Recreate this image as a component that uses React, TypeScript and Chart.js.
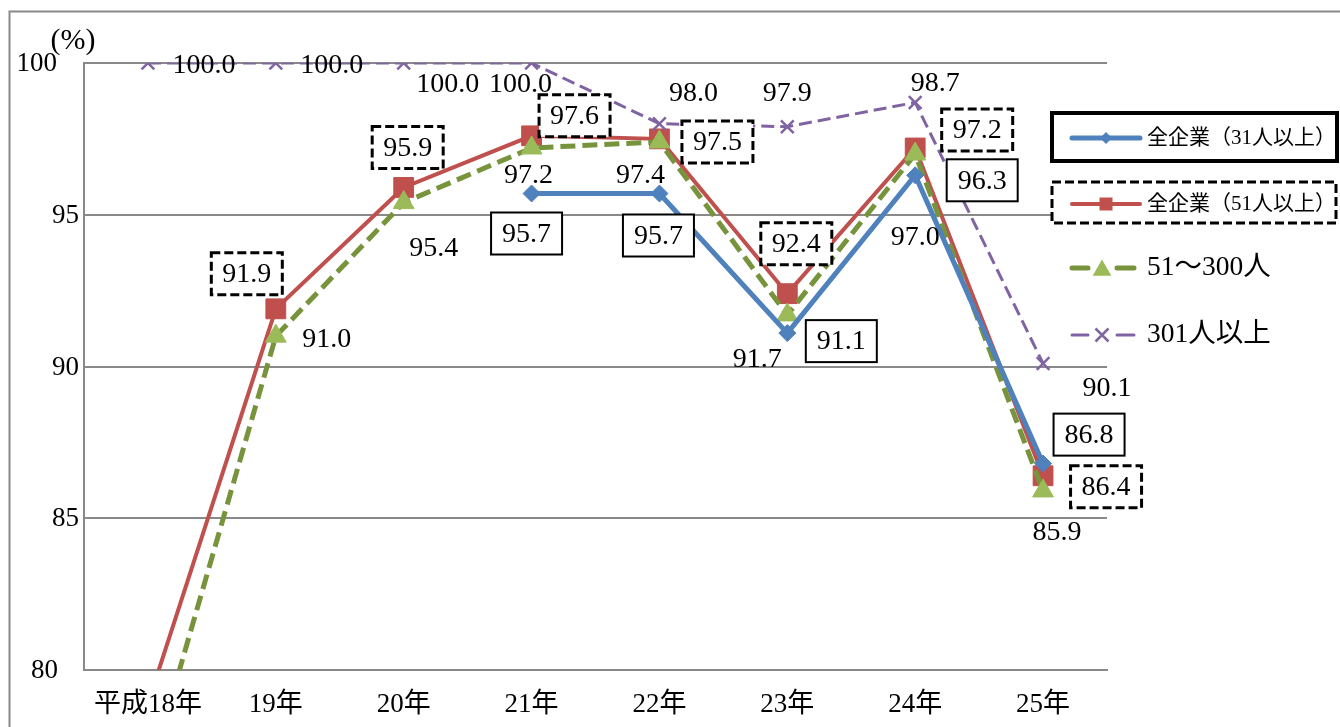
import React, { useEffect, useRef } from 'react';
import { Chart, registerables } from 'chart.js';

Chart.register(...registerables);

// ---------- data ----------
const categories = ['平成18年', '19年', '20年', '21年', '22年', '23年', '24年', '25年'];
const seriesNames = ['全企業（31人以上）', '全企業（51人以上）', '51～300人', '301人以上'];
const all31 = [null, null, null, 95.7, 95.7, 91.1, 96.3, 86.8];
const all51 = [78.9, 91.9, 95.9, 97.6, 97.5, 92.4, 97.2, 86.4];
const mid51to300 = [76.4, 91.0, 95.4, 97.2, 97.4, 91.7, 97.0, 85.9];
const over301 = [100.0, 100.0, 100.0, 100.0, 98.0, 97.9, 98.7, 90.1];
const yTicks = [80, 85, 90, 95, 100];
const yUnit = '(%)';

// ---------- styles / label placement ----------
const FONT = '"Liberation Serif", "Noto Sans CJK JP", serif';
const GRID = '#898989';

const styles = [
  { line: '#4F81BD', fill: '#4F81BD', width: 5, dash: [] as number[], point: 'rectRot', radius: 8.5, order: 1 },
  { line: '#C0504D', fill: '#C0504D', width: 4, dash: [] as number[], point: 'rect', radius: 14, order: 3 },
  { line: '#77933C', fill: '#9BBB59', width: 5, dash: [15, 7], point: 'triangle', radius: 12, order: 2 },
  { line: '#8064A2', fill: '#8064A2', width: 3, dash: [13, 6], point: 'crossRot', radius: 9, order: 0 },
];

const labelOffsets: (number[] | null)[][] = [
  [null, null, null, [-5, 40], [-1, 42], [54, 8], [67, 5], [46, -29]],
  [null, [-29, -35], [4, -40], [43, -20], [58, 3], [9, -50], [62, -18], [63, 11]],
  [null, [51, 2], [30, 45], [-3, 27], [-19, 33], [-30, 44], [0, 83], [14, 41]],
  [[56, 2], [56, 2], [44, 21], [-11, 21], [34, -31], [0, -34], [20, -20], [64, 24]],
];
const labelBoxes = ['solid', 'dashed', 'none', 'none'];
const yLabelRight: Record<number, number> = { 100: 57, 95: 79, 90: 79, 85: 79, 80: 58 };

const legendItems = [
  { y: 138, box: 'solid', rect: [1052, 113, 285, 48], font: 21 },
  { y: 204, box: 'dashed', rect: [1052, 182, 284, 41], font: 21 },
  { y: 268, box: 'none', rect: null, font: 27.5 },
  { y: 335, box: 'none', rect: null, font: 27.5 },
];

function drawMarker(ctx: CanvasRenderingContext2D, style: string, x: number, y: number, r: number, color: string) {
  ctx.save();
  ctx.fillStyle = color;
  ctx.strokeStyle = color;
  ctx.beginPath();
  if (style === 'rectRot') {
    ctx.moveTo(x - r, y);
    ctx.lineTo(x, y - r);
    ctx.lineTo(x + r, y);
    ctx.lineTo(x, y + r);
    ctx.closePath();
    ctx.fill();
  } else if (style === 'rect') {
    ctx.rect(x - r, y - r, 2 * r, 2 * r);
    ctx.fill();
  } else if (style === 'triangle') {
    ctx.moveTo(x, y - r);
    ctx.lineTo(x + r * 1.1, y + r * 0.9);
    ctx.lineTo(x - r * 1.1, y + r * 0.9);
    ctx.closePath();
    ctx.fill();
  } else {
    ctx.lineWidth = 2.5;
    ctx.moveTo(x - r, y - r);
    ctx.lineTo(x + r, y + r);
    ctx.moveTo(x + r, y - r);
    ctx.lineTo(x - r, y + r);
    ctx.stroke();
  }
  ctx.restore();
}

const framePlugin = {
  id: 'frame',
  beforeDraw(chart: any) {
    const ctx = chart.ctx as CanvasRenderingContext2D;
    ctx.save();
    ctx.fillStyle = '#ffffff';
    ctx.fillRect(0, 0, chart.width, chart.height);
    ctx.strokeStyle = GRID;
    ctx.lineWidth = 2;
    ctx.beginPath();
    ctx.moveTo(9.5, chart.height + 5);
    ctx.lineTo(9.5, 11.5);
    ctx.lineTo(chart.width + 5, 11.5);
    ctx.stroke();
    ctx.restore();
  },
  afterDraw(chart: any) {
    const ctx = chart.ctx as CanvasRenderingContext2D;
    const yScale = chart.scales.y;
    ctx.save();
    ctx.fillStyle = '#000';
    ctx.font = `27px ${FONT}`;
    ctx.textBaseline = 'middle';
    ctx.textAlign = 'right';
    yTicks.forEach((v) => {
      ctx.fillText(String(v), yLabelRight[v], yScale.getPixelForValue(v) + 1);
    });
    ctx.textAlign = 'center';
    ctx.font = `30px ${FONT}`;
    ctx.fillText(yUnit, 73, 41);
    ctx.restore();
  },
};

const labelPlugin = {
  id: 'valueLabels',
  afterDatasetsDraw(chart: any) {
    const ctx = chart.ctx as CanvasRenderingContext2D;
    ctx.save();
    ctx.font = `28px ${FONT}`;
    ctx.textAlign = 'center';
    ctx.textBaseline = 'middle';
    chart.data.datasets.forEach((ds: any, i: number) => {
      const meta = chart.getDatasetMeta(i);
      ds.data.forEach((v: number | null, j: number) => {
        if (v == null || v < 80 || v > 100) return;
        const off = labelOffsets[i][j];
        if (!off) return;
        const pt = meta.data[j];
        const x = pt.x + off[0];
        const y = pt.y + off[1];
        const text = v.toFixed(1);
        const box = labelBoxes[i];
        if (box !== 'none') {
          const w = ctx.measureText(text).width + 22;
          const h = 42;
          ctx.fillStyle = '#fff';
          ctx.fillRect(x - w / 2, y - h / 2, w, h);
          ctx.strokeStyle = '#000';
          if (box === 'solid') {
            ctx.lineWidth = 2;
            ctx.setLineDash([]);
          } else {
            ctx.lineWidth = 3;
            ctx.setLineDash([9, 4]);
          }
          ctx.strokeRect(x - w / 2, y - h / 2, w, h);
          ctx.setLineDash([]);
        }
        ctx.fillStyle = '#000';
        ctx.fillText(text, x, y + 1);
      });
    });
    ctx.restore();
  },
};

const legendPlugin = {
  id: 'customLegend',
  afterDraw(chart: any) {
    const ctx = chart.ctx as CanvasRenderingContext2D;
    ctx.save();
    chart.data.datasets.forEach((ds: any, i: number) => {
      const it = legendItems[i];
      const st = styles[i];
      if (it.rect) {
        const [rx, ry, rw, rh] = it.rect;
        ctx.strokeStyle = '#000';
        if (it.box === 'solid') {
          ctx.lineWidth = 4;
          ctx.setLineDash([]);
        } else {
          ctx.lineWidth = 3;
          ctx.setLineDash([9, 4]);
        }
        ctx.fillStyle = '#fff';
        ctx.fillRect(rx, ry, rw, rh);
        ctx.strokeRect(rx, ry, rw, rh);
        ctx.setLineDash([]);
      }
      // line sample
      ctx.strokeStyle = st.line;
      ctx.lineWidth = st.width;
      ctx.lineCap = 'round';
      ctx.beginPath();
      if (st.dash.length) {
        ctx.moveTo(1072, it.y);
        ctx.lineTo(1088, it.y);
        ctx.moveTo(1117, it.y);
        ctx.lineTo(1134, it.y);
      } else {
        ctx.moveTo(1072, it.y);
        ctx.lineTo(1140, it.y);
      }
      ctx.stroke();
      ctx.lineCap = 'butt';
      const mr = i === 0 ? 6 : i === 1 ? 6.5 : i === 2 ? 8.5 : 6.5;
      drawMarker(ctx, st.point, i >= 2 ? 1102 : 1106, it.y, mr, st.fill);
      ctx.fillStyle = '#000';
      ctx.font = `${it.font}px ${FONT}`;
      ctx.textAlign = 'left';
      ctx.textBaseline = 'middle';
      ctx.fillText(ds.label, 1147, it.y);
    });
    ctx.restore();
  },
};

export default function App() {
  const ref = useRef<HTMLCanvasElement | null>(null);

  useEffect(() => {
    if (!ref.current) return;
    const values = [all31, all51, mid51to300, over301];
    const chart = new Chart(ref.current, {
      type: 'line',
      data: {
        labels: categories,
        datasets: values.map((d, i) => ({
          label: seriesNames[i],
          data: d,
          borderColor: styles[i].line,
          backgroundColor: styles[i].fill,
          borderWidth: styles[i].width,
          borderDash: styles[i].dash,
          pointStyle: styles[i].point as any,
          pointRadius: styles[i].radius,
          pointHoverRadius: styles[i].radius,
          pointBackgroundColor: styles[i].fill,
          pointBorderColor: styles[i].fill,
          pointBorderWidth: i === 3 ? 2.5 : 1,
          tension: 0,
          fill: false,
          spanGaps: false,
          order: styles[i].order,
        })),
      },
      options: {
        animation: false,
        responsive: false,
        devicePixelRatio: 1,
        layout: { padding: { left: 0, top: 63, right: 233, bottom: 0 } },
        plugins: {
          legend: { display: false },
          tooltip: { enabled: false },
        },
        scales: {
          x: {
            offset: true,
            grid: { display: false, drawTicks: false },
            border: { display: true, color: GRID, width: 2 },
            ticks: {
              color: '#000',
              font: { family: FONT, size: 27 },
              padding: 19,
              maxRotation: 0,
              autoSkip: false,
            },
            afterFit: (s: any) => { s.height = 57; },
          },
          y: {
            min: 80,
            max: 100,
            ticks: { display: false, stepSize: 5 },
            grid: { color: GRID, lineWidth: 2, drawTicks: false },
            border: { display: true, color: GRID, width: 2 },
            afterFit: (s: any) => { s.width = 84; },
          },
        },
      },
      plugins: [framePlugin, labelPlugin, legendPlugin],
    });
    return () => chart.destroy();
  }, []);

  return (
    <div style={{ position: 'fixed', left: 0, top: 0, width: 1340, height: 727, background: '#fff' }}>
      <canvas ref={ref} width={1340} height={727} style={{ display: 'block' }} />
    </div>
  );
}
